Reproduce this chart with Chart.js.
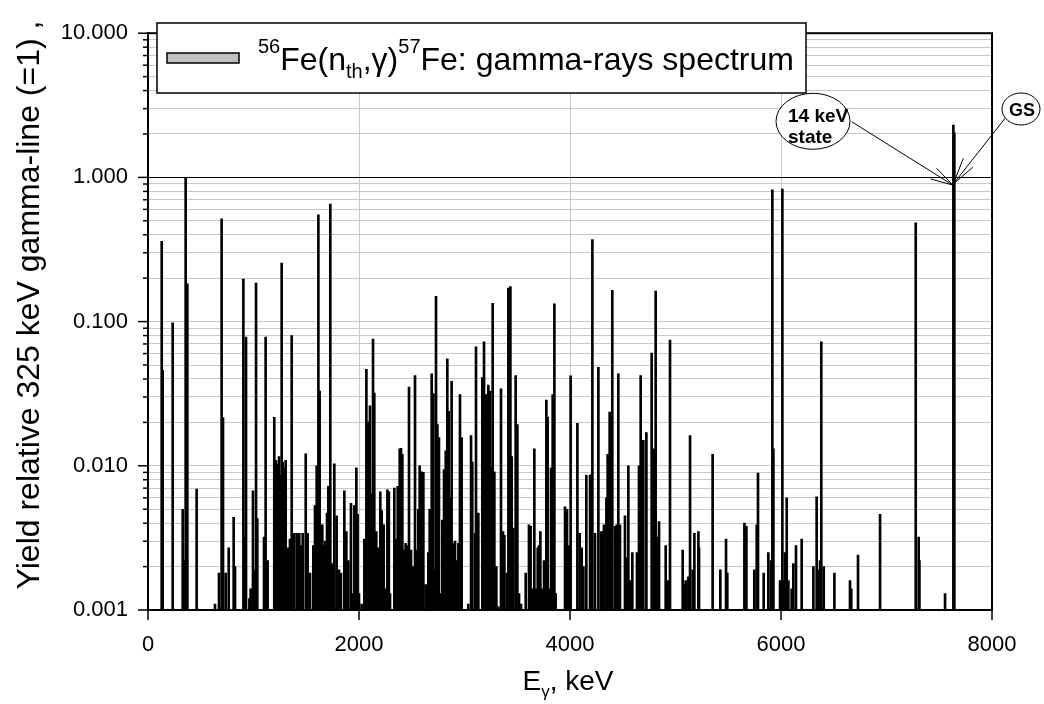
<!DOCTYPE html>
<html><head><meta charset="utf-8">
<script src="https://cdn.jsdelivr.net/npm/chart.js@4.4.1/dist/chart.umd.min.js"></script>
<style>html,body{margin:0;padding:0;background:#fff;}#wrap{position:relative;width:1044px;height:704px;}</style>
</head><body><div id="wrap"><canvas id="c" width="1044" height="704"></canvas></div>
<script>
// gamma-line energies, keV
const energies = [130,139,234,329,341,357,373,461,635,673,698,711,736,765,812,825,904,913,929,961,973,995,1008,1024,1036,1100,1115,1134,
1197,1213,1229,1242,1251,1267,1277,1289,1305,1330,1346,1362,1384,1409,1434,1447,1466,1495,1513,1536,1567,1583,1599,1615,1627,1640,1652,1665,1678,1697,1709,1728,1741,1766,1788,1810,1829,1861,1880,1899,1924,1937,1956,1975,1987,2000,2025,2051,2070,2089,2104,2120,2133,2145,2164,2183,2202,2215,2234,2253,2269,
2283,2294,2335,2348,2367,2386,2398,2411,2430,2442,2461,2474,2493,2512,2531,2547,2562,2575,2594,2610,2632,2657,2670,2689,2705,2720,2730,2743,2758,2774,2790,2806,2822,2837,2850,2866,2878,2894,2910,2926,2942,2957,2973,3036,3062,3074,3100,3109,3131,3169,3185,3201,3226,3242,3258,3267,3283,3302,3321,3346,3365,3378,3400,3416,3428,
3435,3447,3463,3485,3501,3517,3536,3580,3611,3627,3643,3662,3681,3694,3706,3719,3738,3754,3763,3776,3788,3804,3820,3836,3852,3864,3953,3972,3987,4006,4070,4092,4111,4127,4155,4190,4199,4212,4237,4269,4294,4307,4322,4345,4357,4376,4389,4401,4427,4443,4458,4474,4521,4537,4553,
4572,4591,4635,4654,4670,4680,4695,4724,4774,4796,4812,4828,4844,4907,4926,4948,5068,5081,5097,5122,5138,5163,5179,5217,5223,5352,5425,5479,5491,5653,5672,
5747,5770,5782,5836,5880,5905,5918,5928,5991,6013,6022,6038,6054,6070,6101,6117,6142,6196,6307,6338,6354,6370,6382,6405,6506,6654,6666,6730,
6939,7277,7305,7312,7555,7634,7643];
// yields relative to the 325 keV line
const yields = [0.36,0.046,0.098,0.0050,0.0022,1.0,0.183,0.0069,0.0011,0.0018,0.517,0.0216,0.0018,0.0027,0.0044,0.0020,0.197,0.0032,0.078,0.0012,0.0014,0.0067,0.0019,0.185,0.0043,0.0032,0.078,0.0022,
0.0217,0.0109,0.0103,0.0116,0.0086,0.255,0.0106,0.0097,0.0109,0.0027,0.0031,0.080,0.0034,0.0034,0.0034,0.0028,0.0034,0.0121,0.0034,0.0018,0.0028,0.0053,0.0100,0.55,0.033,0.0034,0.0039,0.0028,0.0030,0.0047,0.0072,0.653,0.0021,0.0103,0.0045,0.0019,0.0018,0.0067,0.0035,0.0022,0.0055,0.0013,0.0053,0.0097,0.0046,0.0013,0.0011,0.0031,0.0467,0.0202,0.0261,0.0064,0.0755,0.032,0.0035,0.0027,0.0066,0.0049,0.0039,0.0014,0.0068,
0.0066,0.0013,0.0070,0.0031,0.0072,0.0131,0.0132,0.0120,0.0026,0.0029,0.0028,0.0352,0.0026,0.0020,0.0422,0.0026,0.0050,0.0100,0.0091,0.0090,0.0015,0.0025,0.0050,0.0435,0.0317,0.0019,0.150,0.0193,0.0157,0.0013,0.0042,0.0094,0.0127,0.0552,0.0239,0.0060,0.0385,0.0029,0.0030,0.0022,0.0029,0.0312,0.0157,0.0011,0.0162,0.0106,0.0034,0.0669,0.0047,0.0409,0.0724,0.0312,0.0363,0.033,0.0097,0.134,0.0091,0.0020,0.00105,0.0342,0.0035,0.0033,0.0018,0.171,0.0023,
0.175,0.0116,0.0037,0.0422,0.0193,0.0013,0.0011,0.0018,0.0039,0.0038,0.0014,0.0131,0.0014,0.0027,0.0028,0.0035,0.0014,0.0022,0.0018,0.0286,0.0218,0.0014,0.0097,0.0312,0.133,0.0013,0.0052,0.0050,0.0028,0.042,0.0197,0.0034,0.0027,0.0020,0.0086,0.0086,0.0087,0.37,0.0034,0.0481,0.0035,0.0035,0.0039,0.0060,0.0120,0.0236,0.0100,0.165,0.0038,0.0039,0.0435,0.0039,0.0045,0.0023,0.0100,
0.0016,0.0025,0.0025,0.0100,0.0422,0.0118,0.0150,0.0170,0.0604,0.0131,0.163,0.0032,0.0041,0.0028,0.0016,0.0745,0.0026,0.0015,0.0016,0.0017,0.0162,0.0019,0.0034,0.0035,0.0027,0.0120,0.0019,0.0031,0.0018,0.0040,0.0038,
0.0019,0.0039,0.0089,0.0018,0.0025,0.0022,0.82,0.0131,0.0016,0.83,0.0016,0.0025,0.0060,0.0016,0.0014,0.0021,0.0028,0.0031,0.0020,0.0061,0.0019,0.0022,0.0724,0.0020,0.0018,0.0016,0.0014,0.0024,
0.0046,0.484,0.0032,0.0022,0.0013,2.31,2.04];
const xTickValues = [0,2000,4000,6000,8000];
const yDecades = [0.001,0.01,0.1,1,10];
const yTickValues = [];
yDecades.slice(0,4).forEach(d=>{for(let m=1;m<=9;m++) yTickValues.push(+(m*d).toPrecision(6));});
yTickValues.push(10);
const yTitle = 'Yield relative 325 keV gamma-line (=1) ,';
const legendParts = [['56','sup'],['Fe(n','n'],['th','sub'],[',\u03B3)','n'],['57','sup'],['Fe: gamma-rays spectrum','n']];
const xTitleParts = [['E','n'],['\u03B3','sub'],[', keV','n']];
const note14 = ['14 keV','state'];
const noteGS = 'GS';

const FONT = "'Liberation Sans', Arial, Helvetica, sans-serif";
Chart.defaults.font.family = FONT;

function drawRich(ctx, parts, x, y, size, small, supDy, subDy, align){
  const fonts = parts.map(p => (p[1]==='n'? size : small) + 'px ' + FONT);
  let w = 0; const ws = parts.map((p,i)=>{ctx.font=fonts[i]; const m=ctx.measureText(p[0]).width; w+=m; return m;});
  let cx = align==='center' ? x - w/2 : x;
  ctx.textAlign='left'; ctx.textBaseline='alphabetic';
  parts.forEach((p,i)=>{ctx.font=fonts[i]; const dy = p[1]==='sup'?supDy:(p[1]==='sub'?subDy:0); ctx.fillText(p[0], cx, y+dy); cx+=ws[i];});
}
function line(ctx,x1,y1,x2,y2){ctx.beginPath();ctx.moveTo(x1,y1);ctx.lineTo(x2,y2);ctx.stroke();}

const decor = {
  id:'decor',
  afterDraw(chart){
    const ctx = chart.ctx, ca = chart.chartArea, ys = chart.scales.y, xs = chart.scales.x;
    ctx.save();
    ctx.strokeStyle='#000'; ctx.fillStyle='#000';
    // tick marks
    ctx.lineWidth=1.5;
    yTickValues.forEach(v=>{const py=ys.getPixelForValue(v); const major=yDecades.includes(v); line(ctx, ca.left-(major?10:5), py, ca.left, py);});
    xTickValues.forEach(v=>{const px=xs.getPixelForValue(v); line(ctx, px, ca.bottom, px, ca.bottom+10);});
    // frame
    ctx.lineWidth=2;
    ctx.strokeRect(ca.left, ca.top, ca.right-ca.left, ca.bottom-ca.top);
    // legend
    ctx.fillStyle='#fff'; ctx.fillRect(157,23,649,70);
    ctx.lineWidth=1.5; ctx.strokeRect(157,23,649,70);
    ctx.fillStyle='#c0c0c0'; ctx.fillRect(167,53,72,10);
    ctx.lineWidth=1.5; ctx.strokeRect(167,53,72,10);
    ctx.fillStyle='#000';
    drawRich(ctx, legendParts, 258, 70, 32, 20, -17, 8, 'left');
    // axis titles
    drawRich(ctx, xTitleParts, 568, 690, 28, 17, -12, 7, 'center');
    ctx.save(); ctx.translate(39, 305); ctx.rotate(-Math.PI/2);
    ctx.font='32px '+FONT; ctx.textAlign='center'; ctx.textBaseline='alphabetic';
    ctx.fillText(yTitle, 0, 0); ctx.restore();
    // annotations
    ctx.lineWidth=1;
    line(ctx, 851.7,121.7, 952.7,185); line(ctx, 952.7,185, 930.7,179); line(ctx, 952.7,185, 936.7,168.3);
    line(ctx, 1005,118.3, 953.3,184); line(ctx, 953.3,184, 963.3,158.3); line(ctx, 953.3,184, 972.7,167.3);
    ctx.beginPath(); ctx.ellipse(813,121.3,37,28,0,0,Math.PI*2); ctx.fillStyle='#fff'; ctx.fill(); ctx.stroke();
    ctx.beginPath(); ctx.ellipse(1021,109,19,16,0,0,Math.PI*2); ctx.fill(); ctx.stroke();
    ctx.fillStyle='#000'; ctx.font='bold 19px '+FONT; ctx.textAlign='left'; ctx.textBaseline='alphabetic';
    ctx.fillText(note14[0], 788, 121.5); ctx.fillText(note14[1], 788, 143);
    ctx.textAlign='center'; ctx.font='bold 18px '+FONT; ctx.fillText(noteGS, 1022, 115.5);
    ctx.restore();
  }
};

new Chart(document.getElementById('c').getContext('2d'), {
  type:'bar',
  data:{datasets:[{label:'56Fe(n_th,gamma)57Fe: gamma-rays spectrum', data: energies.map((e,i)=>({x:e,y:yields[i]})), backgroundColor:'#000', borderWidth:0, barThickness:2}]},
  options:{
    responsive:false, animation:false, devicePixelRatio:1,
    layout:{padding:{left:0,right:52,top:18,bottom:0}},
    plugins:{legend:{display:false}, tooltip:{enabled:false}},
    scales:{
      x:{type:'linear', min:0, max:8000, offset:false,
        afterFit(s){s.height=94;},
        afterBuildTicks(s){s.ticks = xTickValues.map(v=>({value:v}));},
        ticks:{font:{family:FONT,size:22}, color:'#000', padding:22, maxRotation:0, autoSkip:false, callback:v=>String(v)},
        grid:{color:'#c8c8c8', lineWidth:1, drawTicks:false, offset:false},
        border:{display:true, color:'#000', width:2}},
      y:{type:'logarithmic', min:0.001, max:10,
        afterFit(s){s.width=148;},
        afterBuildTicks(s){s.ticks = yTickValues.map(v=>({value:v}));},
        ticks:{font:{family:FONT,size:22}, color:'#000', padding:20, autoSkip:false, callback:v=> yDecades.includes(v) ? v.toFixed(3) : ''},
        grid:{color:c=> (c.tick && c.tick.value===1) ? '#000' : '#c8c8c8', lineWidth:1, drawTicks:false},
        border:{display:true, color:'#000', width:2}}
    }
  },
  plugins:[decor]
});
</script></body></html>
